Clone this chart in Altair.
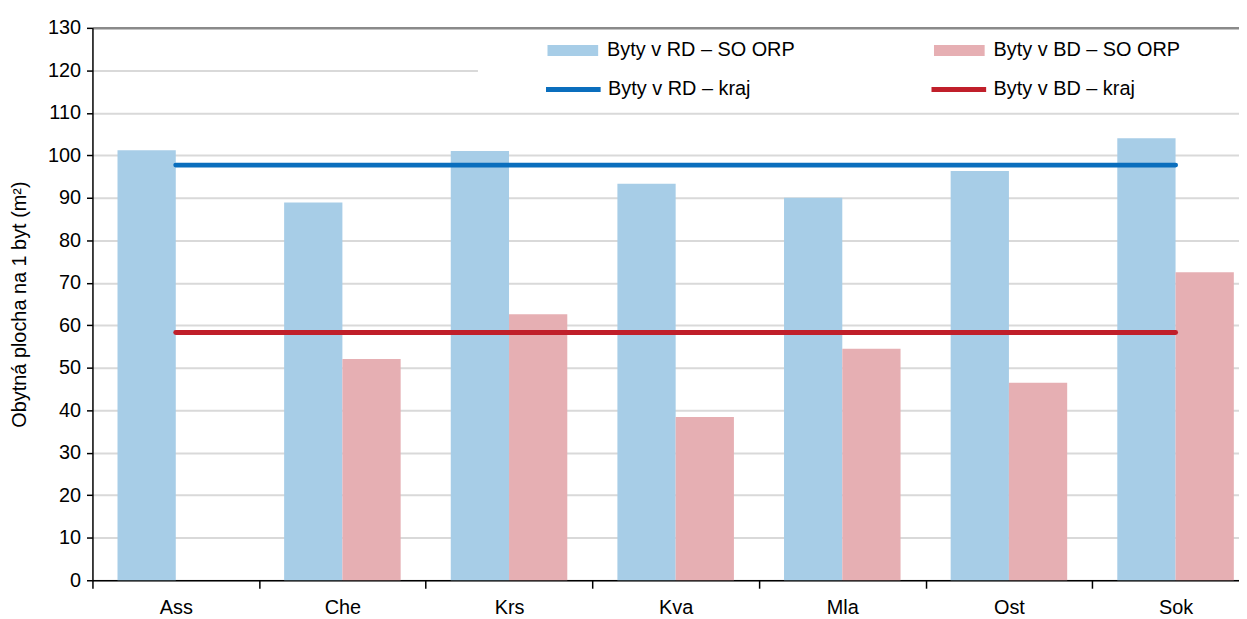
import altair as alt
import pandas as pd

# ---- data ----
kategorie = ["Ass", "Che", "Krs", "Kva", "Mla", "Ost", "Sok"]
rd_orp = [101.2, 88.9, 101.0, 93.3, 90.0, 96.3, 104.0]
bd_orp = [None, 52.1, 62.6, 38.4, 54.5, 46.5, 72.5]
rd_kraj = 97.7
bd_kraj = 58.3

serie_bar = ["Byty v RD – SO ORP", "Byty v BD – SO ORP"]
serie_line = ["Byty v RD – kraj", "Byty v BD – kraj"]
bar_colors = ["#A7CDE7", "#E6AFB3"]
line_colors = ["#0A6EBD", "#C01F2A"]
y_ticks = list(range(0, 131, 10))

FONT = "Liberation Sans"
FS = 20

rows = []
for k, a, b in zip(kategorie, rd_orp, bd_orp):
    rows.append({"kat": k, "serie": serie_bar[0], "hodnota": a})
    if b is not None:
        rows.append({"kat": k, "serie": serie_bar[1], "hodnota": b})
bars_df = pd.DataFrame(rows)

lrows = []
for k in kategorie:
    lrows.append({"kat": k, "serie": serie_line[0], "hodnota": rd_kraj})
    lrows.append({"kat": k, "serie": serie_line[1], "hodnota": bd_kraj})
lines_df = pd.DataFrame(lrows)

W = 1154
H = 556
BAND_RANGE = [0, 1174]

x_enc = alt.X(
    "kat:N",
    sort=kategorie,
    scale=alt.Scale(range=BAND_RANGE, paddingInner=0, paddingOuter=0),
    axis=alt.Axis(
        title=None,
        labelAngle=0,
        labelFontSize=FS,
        labelFont=FONT,
        labelColor="#000000",
        labelPadding=9,
        tickBand="extent",
        tickSize=8,
        tickColor="#000000",
        tickWidth=1.5,
        domainColor="#000000",
        domainWidth=1.5,
        grid=False,
    ),
)

y_scale = alt.Scale(domain=[0, 130], nice=False)
y_axis = alt.Axis(
    title="Obytná plocha na 1 byt (m²)",
    titleFont=FONT,
    titleFontSize=20,
    titleFontWeight="normal",
    titleColor="#000000",
    titlePadding=18,
    values=y_ticks,
    labelFont=FONT,
    labelFontSize=FS,
    labelColor="#000000",
    labelPadding=6,
    tickSize=6,
    tickColor="#000000",
    tickWidth=1.5,
    domainColor="#000000",
    domainWidth=1.5,
    grid=True,
    gridColor=alt.condition("datum.value == 130", alt.value("#8A8A8A"), alt.value("#D9D9D9")),
    gridWidth=alt.condition("datum.value == 130", alt.value(2.5), alt.value(2)),
)

# white panel behind the legend (covers the 120 gridline there)
legend_bg = alt.Chart(pd.DataFrame({"a": [0]})).mark_rect(color="white").encode(
    x=alt.value(388), x2=alt.value(W), y=alt.value(6), y2=alt.value(82)
)

bars = alt.Chart(bars_df).mark_bar().encode(
    x=x_enc,
    xOffset=alt.XOffset(
        "serie:N",
        sort=serie_bar,
        scale=alt.Scale(domain=serie_bar, paddingInner=0, paddingOuter=0.43),
    ),
    y=alt.Y("hodnota:Q", scale=y_scale, axis=y_axis),
    color=alt.Color(
        "serie:N",
        scale=alt.Scale(domain=serie_bar, range=bar_colors),
        legend=alt.Legend(
            title=None,
            orient="none",
            legendX=458,
            legendY=-3,
            direction="horizontal",
            symbolType="M-1,-0.22H1V0.22H-1Z",
            symbolSize=2601,
            symbolOpacity=1,
            symbolStrokeWidth=0,
            labelFont=FONT,
            labelFontSize=FS,
            labelColor="#000000",
            labelOffset=9,
            labelLimit=400,
            columnPadding=140,
            padding=0,
        ),
    ),
)

lines = alt.Chart(lines_df).mark_line(strokeWidth=5, strokeCap="round").encode(
    x=alt.X("kat:N", sort=kategorie),
    y=alt.Y("hodnota:Q", scale=y_scale),
    detail="serie:N",
    stroke=alt.Stroke(
        "serie:N",
        scale=alt.Scale(domain=serie_line, range=line_colors),
        legend=alt.Legend(
            title=None,
            orient="none",
            legendX=454,
            legendY=32,
            direction="horizontal",
            symbolType="stroke",
            symbolSize=3025,
            symbolStrokeWidth=5,
            labelFont=FONT,
            labelFontSize=FS,
            labelColor="#000000",
            labelOffset=5,
            labelLimit=400,
            columnPadding=171,
            padding=0,
        ),
    ),
)

chart = (
    alt.layer(legend_bg, bars, lines)
    .resolve_scale(color="independent", stroke="independent")
    .properties(
        width=W,
        height=H,
        autosize=alt.AutoSizeParams(type="none"),
        padding={"left": 85, "top": 18, "right": 0, "bottom": 37},
        background="white",
    )
    .configure_view(stroke=None)
)

chart.save("out.html", embed_options={"renderer": "svg", "actions": False})
